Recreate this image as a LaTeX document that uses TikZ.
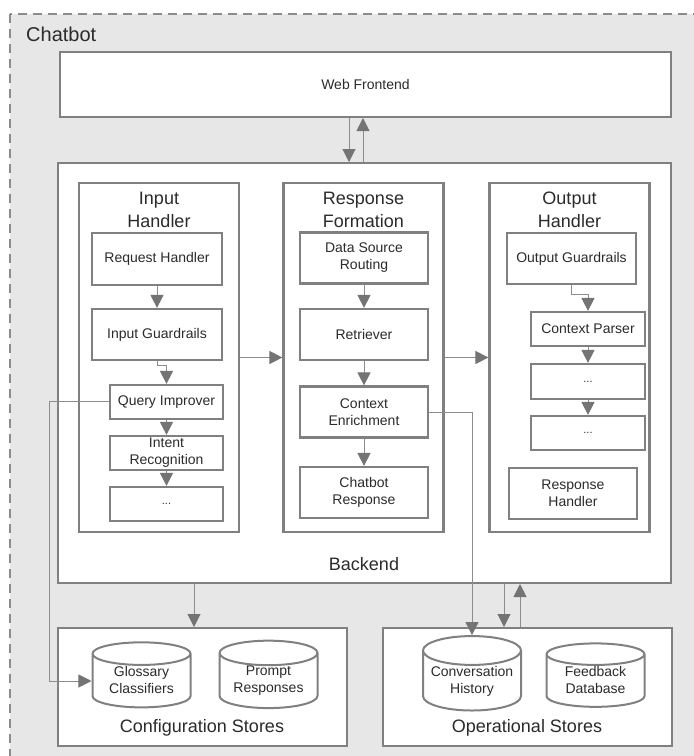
\documentclass[tikz,border=0pt]{standalone}
\usepackage{fontspec}
\setmainfont{Liberation Sans}
\usetikzlibrary{positioning, arrows.meta, shapes.geometric}

\definecolor{framegray}{HTML}{808080}
\definecolor{linegray}{HTML}{8C8C8C}
\definecolor{tipgray}{HTML}{747474}
\definecolor{bggray}{HTML}{E7E7E7}
\definecolor{textgray}{HTML}{2B2B2B}

\begin{document}
\begin{tikzpicture}[
    x=1pt, y=-1pt,
    % Boxes of the layers
    panel/.style={
        draw=framegray,
        line width=2pt,
        fill=white,
        inner sep=0pt
    },
    stage/.style={
        draw=framegray,
        line width=2.2pt,
        fill=white,
        minimum width=160pt,
        minimum height=349pt,
        inner sep=0pt
    },
    unit/.style={
        draw=framegray,
        line width=2.2pt,
        fill=white,
        text=textgray,
        font=\fontsize{14}{17}\selectfont,
        align=center,
        inner sep=1pt
    },
    store/.style={
        cylinder,
        shape border rotate=90,
        aspect=0.35,
        draw=framegray,
        line width=2pt,
        fill=white,
        text=textgray,
        font=\fontsize{14}{17}\selectfont,
        align=center,
        minimum width=98pt,
        minimum height=61pt,
        text depth=3pt,
        inner sep=0pt
    },
    title/.style={
        text=textgray,
        font=\fontsize{18}{23}\selectfont,
        align=center,
        inner sep=0pt
    },
    flow/.style={
        draw=linegray,
        line width=1pt,
        -{Triangle[length=13pt, width=13pt, color=tipgray]}
    }
]
    \useasboundingbox (0,0) rectangle (694,756);

    % --- Chatbot frame ---
    \begin{scope}
        \clip (0,0) rectangle (694,756);
        \draw[fill=bggray, draw=linegray, line width=1.4pt, dash pattern=on 9pt off 6pt]
            (10,14) rectangle (710,770);
    \end{scope}
    \node[title, font=\fontsize{20}{24}\selectfont, anchor=west] (chatlabel) at (26,34) {Chatbot};

    % --- Frontend / Backend ---
    \node[panel, minimum width=611pt, minimum height=65pt, text=textgray,
          font=\fontsize{14}{17}\selectfont] (web) at (365.5,84.5) {Web Frontend};
    \node[panel, minimum width=613pt, minimum height=420pt] (backend) at (364.5,373) {};
    \node[title] (belabel) at (364,564) {Backend};

    % --- Input Handler ---
    \node[stage] (inbox) at (159,357.5) {};
    \node[title] (intitle) at (159,210) {Input\\Handler};
    \node[unit, minimum width=130pt, minimum height=52pt] (request) at (157,259) {Request Handler};
    \node[unit, minimum width=130pt, minimum height=51pt] (inguard) at (157,334.5) {Input Guardrails};
    \node[unit, minimum width=113pt, minimum height=34pt] (query) at (166.5,402) {Query Improver};
    \node[unit, minimum width=113pt, minimum height=34pt, inner sep=0pt] (intent) at (166.5,453) {Intent\\Recognition};
    \node[unit, minimum width=113pt, minimum height=34pt, font=\fontsize{11}{13}\selectfont] (indots) at (166.5,504) {...};

    % --- Response Formation ---
    \node[stage] (resbox) at (363.5,357.5) {};
    \node[title] (restitle) at (363.5,210) {Response\\Formation};
    \node[unit, minimum width=128pt, minimum height=51pt] (routing) at (364,258) {Data Source\\Routing};
    \node[unit, minimum width=128pt, minimum height=51pt] (retriever) at (364,334.5) {Retriever};
    \node[unit, minimum width=128pt, minimum height=51pt] (enrich) at (364,412) {Context\\Enrichment};
    \node[unit, minimum width=128pt, minimum height=51pt] (answer) at (364,492.5) {Chatbot\\Response};

    % --- Output Handler ---
    \node[stage] (outbox) at (569.5,357.5) {};
    \node[title] (outtitle) at (569.5,210) {Output\\Handler};
    \node[unit, minimum width=129pt, minimum height=51pt] (outguard) at (571.5,258.5) {Output Guardrails};
    \node[unit, minimum width=114pt, minimum height=34pt] (parser) at (588,329) {Context Parser};
    \node[unit, minimum width=114pt, minimum height=35pt, font=\fontsize{11}{13}\selectfont] (outdotsa) at (588,381.5) {...};
    \node[unit, minimum width=114pt, minimum height=34pt, font=\fontsize{11}{13}\selectfont] (outdotsb) at (588,433) {...};
    \node[unit, minimum width=128pt, minimum height=51pt] (reshandler) at (573,493.5) {Response\\Handler};

    % --- Stores ---
    \node[panel, minimum width=289pt, minimum height=118pt] (config) at (202.5,687) {};
    \node[title] (configlabel) at (202,728) {Configuration Stores};
    \node[store] (glossary) at (141.5,681) {Glossary\\Classifiers};
    \node[store] (prompt) at (268.5,681) {Prompt\\Responses};

    \node[panel, minimum width=289pt, minimum height=118pt] (ops) at (527.5,687) {};
    \node[title] (opslabel) at (527,728) {Operational Stores};
    \node[store] (history) at (472,681) {Conversation\\History};
    \node[store] (feedback) at (595.5,681) {Feedback\\Database};

    % --- Helper coordinates ---
    \coordinate (webdown) at (349,0);
    \coordinate (webup) at (363,0);
    \coordinate (cfgdown) at (194,0);
    \coordinate (opsdown) at (504,0);
    \coordinate (opsup) at (520,0);
    \coordinate (qbend) at (49,401);

    % --- Connections ---
    \draw[flow] (web.south -| webdown) -- (backend.north -| webdown);
    \draw[flow] (backend.north -| webup) -- (web.south -| webup);

    \draw[flow] (request) -- (inguard);
    \draw[flow] (inguard.south) -- ++(0,4) -| (query.north);
    \draw[flow] (query) -- (intent);
    \draw[flow] (intent) -- (indots);

    \draw[flow] (routing) -- (retriever);
    \draw[flow] (retriever) -- (enrich);
    \draw[flow] (enrich) -- (answer);

    \draw[flow] (outguard.south) -- ++(0,9) -| (parser.north);
    \draw[flow] (parser) -- (outdotsa);
    \draw[flow] (outdotsa) -- (outdotsb);

    \draw[flow] (inbox.east) -- (resbox.west);
    \draw[flow] (resbox.east) -- (outbox.west);

    \draw[flow] (query.west |- qbend) -- (qbend) |- (glossary.west);
    \draw[flow] (enrich.east) -| (history.north);

    \draw[flow] (backend.south -| cfgdown) -- (config.north -| cfgdown);
    \draw[flow] (backend.south -| opsdown) -- (ops.north -| opsdown);
    \draw[flow] (ops.north -| opsup) -- (backend.south -| opsup);

\end{tikzpicture}
\end{document}
